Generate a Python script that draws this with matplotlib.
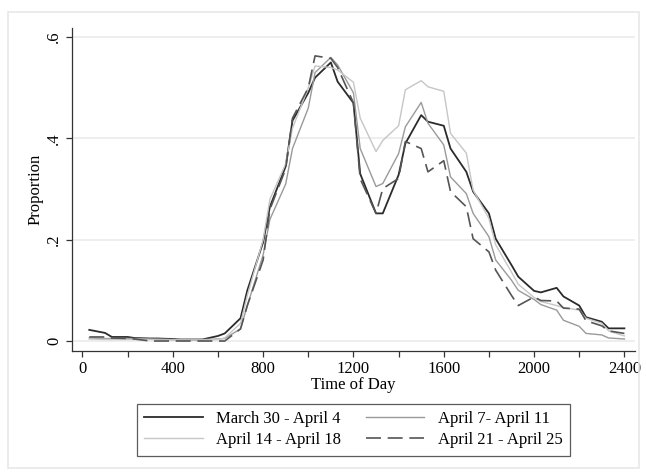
#!/usr/bin/env python3
import numpy as np

import matplotlib
matplotlib.use("Agg")
import matplotlib.pyplot as plt
from matplotlib.patches import Rectangle


# time of day in HHMM form, half-hour steps
times = [30, 100, 130, 200, 230, 300, 330, 400, 430, 500, 530, 600,
         630, 700, 730, 800, 830, 900, 930, 1000, 1030, 1100, 1130, 1200,
         1230, 1300, 1330, 1400, 1430, 1500, 1530, 1600, 1630, 1700, 1730, 1800,
         1830, 1900, 1930, 2000, 2030, 2100, 2130, 2200, 2230, 2300, 2330, 2400]

march30_april4 = [0.022, 0.016, 0.008, 0.008, 0.006, 0.005, 0.005, 0.004, 0.003, 0.003, 0.003, 0.010,
                  0.015, 0.045, 0.100, 0.195, 0.265, 0.345, 0.435, 0.490, 0.520, 0.550, 0.512, 0.470,
                  0.330, 0.252, 0.252, 0.328, 0.390, 0.446, 0.433, 0.425, 0.380, 0.334, 0.295, 0.252,
                  0.202, 0.150, 0.127, 0.099, 0.096, 0.105, 0.088, 0.070, 0.047, 0.038, 0.025, 0.025]

april7_april11 = [0.006, 0.005, 0.005, 0.005, 0.005, 0.004, 0.004, 0.003, 0.003, 0.003, 0.003, 0.004,
                  0.005, 0.024, 0.070, 0.170, 0.240, 0.310, 0.380, 0.460, 0.530, 0.560, 0.545, 0.490,
                  0.380, 0.305, 0.311, 0.370, 0.423, 0.471, 0.430, 0.387, 0.324, 0.291, 0.252, 0.206,
                  0.160, 0.120, 0.100, 0.082, 0.072, 0.061, 0.041, 0.029, 0.015, 0.012, 0.006, 0.004]

april14_april18 = [0.004, 0.003, 0.003, 0.003, 0.003, 0.003, 0.002, 0.002, 0.002, 0.002, 0.002, 0.003,
                   0.006, 0.035, 0.090, 0.200, 0.280, 0.350, 0.420, 0.500, 0.543, 0.540, 0.535, 0.511,
                   0.440, 0.374, 0.396, 0.425, 0.496, 0.514, 0.502, 0.493, 0.410, 0.371, 0.298, 0.242,
                   0.190, 0.136, 0.112, 0.086, 0.078, 0.070, 0.066, 0.061, 0.045, 0.035, 0.020, 0.010]

april21_april25 = [0.008, 0.008, 0.006, 0.005, 0.004, 0.000, 0.000, 0.000, 0.000, 0.000, 0.000, 0.000,
                   0.000, 0.024, 0.070, 0.160, 0.260, 0.340, 0.440, 0.500, 0.563, 0.558, 0.540, 0.470,
                   0.320, 0.252, 0.301, 0.321, 0.394, 0.380, 0.334, 0.356, 0.295, 0.265, 0.202, 0.176,
                   0.140, 0.090, 0.070, 0.087, 0.080, 0.079, 0.065, 0.063, 0.040, 0.030, 0.020, 0.015]

labels = ["March 30 - April 4", "April 7- April 11", "April 14 - April 18", "April 21 - April 25"]

plt.rcParams["font.family"] = ["Liberation Serif", "DejaVu Serif"]
plt.rcParams["font.size"] = 12

W, H = 646, 475
fig = plt.figure(figsize=(W / 100, H / 100), dpi=100)

# outer graph region frame
fig.patches.append(Rectangle((8 / W, 1 - 468 / H), (639 - 8) / W, (468 - 12) / H,
                             transform=fig.transFigure, fill=False,
                             edgecolor="#e8e8e8", linewidth=1.2))

ax = fig.add_axes([72 / W, 1 - 351 / H, (635 - 72) / W, (351 - 28) / H])

l1, = ax.plot(times, march30_april4, color="#2b2b2b", linewidth=1.3, label=labels[0])
l2, = ax.plot(times, april7_april11, color="#9a9a9a", linewidth=1.0, label=labels[1])
l3, = ax.plot(times, april14_april18, color="#c6c6c6", linewidth=1.0, label=labels[2])
l4, = ax.plot(times, april21_april25, color="#555555", linewidth=1.2,
              linestyle=(0, (9, 4)), label=labels[3])

ax.set_xlim(-46.5, 2447)
ax.set_ylim(-0.0197, 0.618)

ax.set_xticks(np.arange(0, 2401, 400))
ax.set_xticks(np.arange(200, 2400, 400), minor=True)
ax.set_yticks([0, 0.2, 0.4, 0.6])
ax.set_yticklabels(["0", ".2", ".4", ".6"], rotation=90, va="center")

for side in ["top", "right"]:
    ax.spines[side].set_visible(False)
for side in ["left", "bottom"]:
    ax.spines[side].set_color("#333333")
    ax.spines[side].set_linewidth(0.9)

ax.tick_params(axis="both", which="both", direction="out", length=4,
               width=0.9, color="#333333", labelsize=12, pad=3)
ax.tick_params(axis="x", which="minor", length=4)

ax.yaxis.grid(True, color="#eeeeee", linewidth=1.4)
ax.set_axisbelow(True)

ax.set_xlabel("Time of Day", fontsize=12, labelpad=0)
ax.set_ylabel("Proportion", fontsize=12, labelpad=2)

leg = fig.legend([l1, l3, l2, l4],
                 [labels[0], labels[2], labels[1], labels[3]],
                 ncol=2, loc="center", bbox_to_anchor=(353.5 / W, 1 - 429.5 / H),
                 bbox_transform=fig.transFigure, fontsize=12,
                 frameon=True, fancybox=False, handlelength=3.5,
                 handletextpad=0.8, columnspacing=1.5, labelspacing=0.3,
                 borderpad=0.45, borderaxespad=0)
leg.get_frame().set_edgecolor("#333333")
leg.get_frame().set_linewidth(0.9)

fig.savefig("out.png", dpi=100)
